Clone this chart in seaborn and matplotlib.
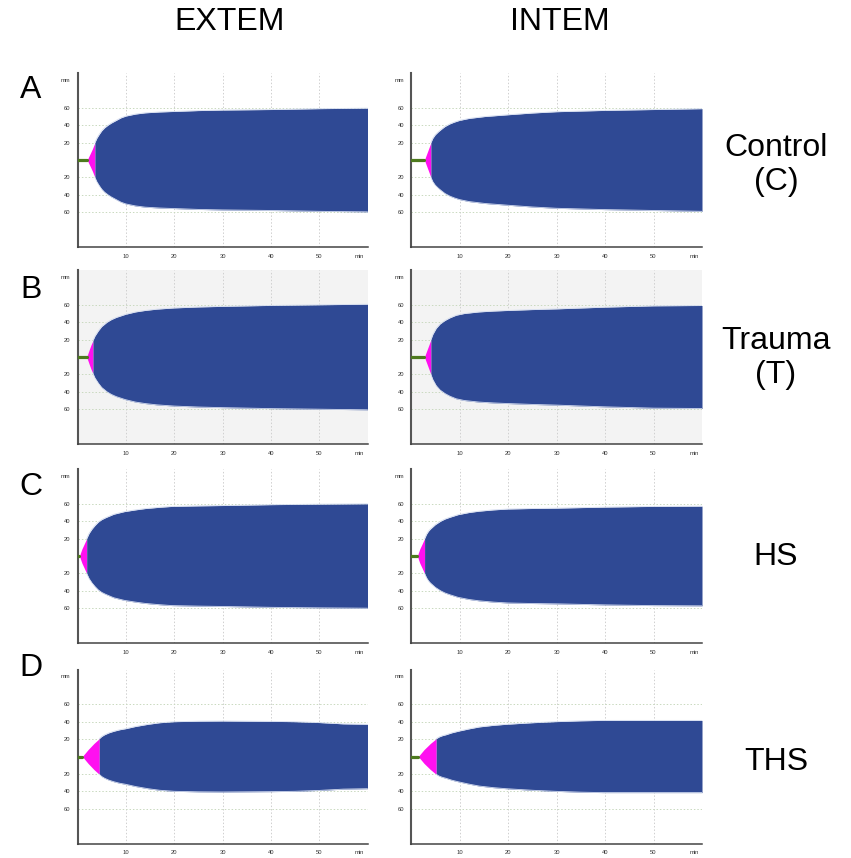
import numpy as np
import pandas as pd
import matplotlib
matplotlib.use("Agg")
import matplotlib.pyplot as plt
import seaborn as sns

# ---------------- data ----------------
columns = ["EXTEM", "INTEM"]
rows = ["A", "B", "C", "D"]
row_labels = ["Control\n(C)", "Trauma\n(T)", "HS", "THS"]

x_ticks = [10, 20, 30, 40, 50]
x_tick_labels = ["10", "20", "30", "40", "50"]
y_ticks = [-60, -40, -20, 20, 40, 60]
y_tick_labels = ["60", "40", "20", "20", "40", "60"]

# clotting time (end of green baseline), min
ct_A_EXTEM = 2.0
ct_A_INTEM = 2.76
ct_B_EXTEM = 1.9
ct_B_INTEM = 2.76
ct_C_EXTEM = 0.4
ct_C_INTEM = 1.3
ct_D_EXTEM = 1.0
ct_D_INTEM = 1.5

# pink (clot formation up to 20 mm)
pink_t_A_EXTEM = [2.0, 2.6, 3.1, 3.6]
pink_a_A_EXTEM = [0, 7, 13, 20]
pink_t_A_INTEM = [2.76, 3.3, 3.7, 4.1]
pink_a_A_INTEM = [0, 8, 14, 20]
pink_t_B_EXTEM = [1.9, 2.4, 2.8, 3.2]
pink_a_B_EXTEM = [0, 8, 14, 19]
pink_t_B_INTEM = [2.76, 3.3, 3.7, 4.1]
pink_a_B_INTEM = [0, 8, 14, 20]
pink_t_C_EXTEM = [0.4, 0.9, 1.4, 1.9]
pink_a_C_EXTEM = [0, 8, 14, 20]
pink_t_C_INTEM = [1.3, 1.8, 2.3, 2.8]
pink_a_C_INTEM = [0, 8, 14, 20]
pink_t_D_EXTEM = [1.0, 2.2, 3.4, 4.5]
pink_a_D_EXTEM = [0, 8, 15, 20.5]
pink_t_D_INTEM = [1.5, 2.7, 4.0, 5.2]
pink_a_D_INTEM = [0, 8, 15, 20.5]

# blue (amplitude after 20 mm), min / mm
blue_t_A_EXTEM = [3.6, 4.0, 4.5, 5.0, 5.6, 6.3, 7.0, 8.0, 9.0, 10, 12, 14, 17, 20, 25, 30, 40, 50, 60]
blue_a_A_EXTEM = [20, 25, 29.5, 33.5, 37, 40, 42.5, 45.5, 48.5, 50.5, 52.8, 54.2, 55.2, 55.8, 56.8, 57.4, 58, 59, 59.6]
blue_t_A_INTEM = [4.1, 4.5, 5.0, 5.65, 6.3, 7.0, 8.0, 8.9, 10, 12, 15.3, 20, 25, 30, 40, 50, 60]
blue_a_A_INTEM = [20, 25, 29, 32.5, 35.5, 38.5, 41.5, 43.5, 45.5, 47.8, 50, 52, 54, 55.5, 57, 58, 59]
blue_t_B_EXTEM = [3.2, 3.6, 4.3, 5.0, 6.1, 7.0, 8, 9.9, 12, 14, 16.4, 20, 25, 30, 40, 50, 60]
blue_a_B_EXTEM = [19, 24, 30, 35, 40, 43, 45.5, 49, 51.8, 53.5, 55, 56.4, 57.5, 58.2, 59.3, 60, 60.7]
blue_t_B_INTEM = [4.1, 4.5, 5.2, 6.0, 7.0, 8, 9.3, 11, 14, 17, 20, 25, 30, 40, 50, 60]
blue_a_B_INTEM = [20, 26, 33, 38, 42, 45, 48, 50, 51.8, 52.8, 53.5, 54.5, 55.3, 57.3, 58.8, 59.2]
blue_t_C_EXTEM = [1.9, 2.4, 3.0, 3.6, 4.3, 5.0, 5.8, 7.5, 9.7, 12, 14, 17, 19.6, 25, 30, 40, 50, 60]
blue_a_C_EXTEM = [20, 26, 31, 35, 39, 41.8, 44, 48, 51, 53, 54.5, 56, 57, 57.6, 58, 59, 59.6, 60]
blue_t_C_INTEM = [2.8, 3.2, 3.6, 4.0, 5.0, 6.1, 7, 8, 9.7, 12, 14, 17, 20, 25, 30, 40, 50, 60]
blue_a_C_INTEM = [20, 25, 28.5, 31, 36, 40, 42.5, 44.5, 47.5, 50, 51.5, 53, 54, 54.6, 55, 56.2, 57, 57.3]
blue_t_D_EXTEM = [4.5, 5.0, 5.6, 6.5, 7.5, 8.7, 10, 12, 14.6, 17, 20, 25, 30, 40, 45, 50, 55, 60]
blue_a_D_EXTEM = [20.5, 23, 25, 27.2, 29, 30.7, 32, 34.5, 37, 38.8, 40, 40.6, 40.8, 40.4, 40, 39, 37.5, 37]
blue_t_D_INTEM = [5.2, 5.8, 6.5, 7.2, 8.4, 9.7, 12, 14.1, 17, 19.6, 25, 29.6, 35, 39.6, 49.6, 60]
blue_a_D_INTEM = [20.5, 22.5, 24, 25, 27.2, 29, 31.8, 34, 35.8, 37, 38.8, 40, 41, 41.5, 41.5, 41.5]

panel_data = {
    ("A", "EXTEM"): (ct_A_EXTEM, pink_t_A_EXTEM, pink_a_A_EXTEM, blue_t_A_EXTEM, blue_a_A_EXTEM),
    ("A", "INTEM"): (ct_A_INTEM, pink_t_A_INTEM, pink_a_A_INTEM, blue_t_A_INTEM, blue_a_A_INTEM),
    ("B", "EXTEM"): (ct_B_EXTEM, pink_t_B_EXTEM, pink_a_B_EXTEM, blue_t_B_EXTEM, blue_a_B_EXTEM),
    ("B", "INTEM"): (ct_B_INTEM, pink_t_B_INTEM, pink_a_B_INTEM, blue_t_B_INTEM, blue_a_B_INTEM),
    ("C", "EXTEM"): (ct_C_EXTEM, pink_t_C_EXTEM, pink_a_C_EXTEM, blue_t_C_EXTEM, blue_a_C_EXTEM),
    ("C", "INTEM"): (ct_C_INTEM, pink_t_C_INTEM, pink_a_C_INTEM, blue_t_C_INTEM, blue_a_C_INTEM),
    ("D", "EXTEM"): (ct_D_EXTEM, pink_t_D_EXTEM, pink_a_D_EXTEM, blue_t_D_EXTEM, blue_a_D_EXTEM),
    ("D", "INTEM"): (ct_D_INTEM, pink_t_D_INTEM, pink_a_D_INTEM, blue_t_D_INTEM, blue_a_D_INTEM),
}

# ---------------- style ----------------
sns.set_style("white")
plt.rcParams["font.family"] = ["Liberation Sans", "DejaVu Sans"]
plt.rcParams["text.color"] = "black"

BLUE = "#2f4994"
PINK = "#ff10f0"
GREEN = "#4d7a1e"
EDGE = "#d5ddf0"

W, H = 851, 858
fig = plt.figure(figsize=(W / 100, H / 100), dpi=100)

col_left = {"EXTEM": 77.5, "INTEM": 411}
col_width = {"EXTEM": 290, "INTEM": 291}
row_top = {"A": 73, "B": 270, "C": 469, "D": 669.5}
PH = 174

for r in rows:
    for c in columns:
        ct, pt, pa, bt, ba = panel_data[(r, c)]
        ax = fig.add_axes([col_left[c] / W, 1 - (row_top[r] + PH) / H,
                           col_width[c] / W, PH / H])
        ax.set_facecolor("#f3f3f3" if r == "B" else "white")
        # grid
        for xv in x_ticks:
            ax.axvline(xv, color="#cfcfcf", lw=0.7, ls=(0, (1.5, 2)), zorder=0)
        for yv in y_ticks:
            ax.axhline(yv, color="#c9d9bf", lw=0.7, ls=(0, (1.5, 2)), zorder=0)
        # green baseline
        sns.lineplot(x=[0, ct], y=[0, 0], ax=ax, color=GREEN, lw=2.3,
                     zorder=3, legend=False)
        # pink part
        pt_a = np.array(pt); pa_a = np.array(pa)
        ax.fill_between(pt_a, pa_a, -pa_a, color=PINK, lw=0, zorder=2)
        # blue part
        bt_a = np.array(bt); ba_a = np.array(ba)
        ax.fill_between(bt_a, ba_a, -ba_a, color=BLUE, lw=0, zorder=2)
        sns.lineplot(x=bt_a, y=ba_a, ax=ax, color=EDGE, lw=0.6, zorder=2.5,
                     sort=False, legend=False)
        sns.lineplot(x=bt_a, y=-ba_a, ax=ax, color=EDGE, lw=0.6, zorder=2.5,
                     sort=False, legend=False)

        ax.set_xlim(0, 60)
        ax.set_ylim(-100, 100)
        ax.set_xticks(x_ticks + [58.4])
        ax.set_xticklabels(x_tick_labels + ["min"])
        ax.set_yticks(y_ticks + [92])
        ax.set_yticklabels(y_tick_labels + ["mm"])
        ax.tick_params(length=0, labelsize=4.2, labelcolor="#333333", pad=5)
        ax.set_xlabel("")
        ax.set_ylabel("")
        for s in ["top", "right"]:
            ax.spines[s].set_visible(False)
        ax.spines["left"].set_color("#555555")
        ax.spines["left"].set_linewidth(1.5)
        ax.spines["bottom"].set_color("#444444")
        ax.spines["bottom"].set_linewidth(1.1)

FS = 23
fig.text(230 / W, 1 - 22 / H, columns[0], ha="center", va="center", fontsize=FS, color="black")
fig.text(560 / W, 1 - 22 / H, columns[1], ha="center", va="center", fontsize=FS, color="black")

letter_y = [90, 290, 487, 668]
for lab, yy in zip(rows, letter_y):
    fig.text(31 / W, 1 - yy / H, lab, ha="center", va="center", fontsize=FS, color="black")

right_y = [165, 358, 557, 762]
for lab, yy in zip(row_labels, right_y):
    fig.text(776 / W, 1 - yy / H, lab, ha="center", va="center", fontsize=FS,
             linespacing=1.2, color="black")

fig.savefig("out.png", dpi=100)
